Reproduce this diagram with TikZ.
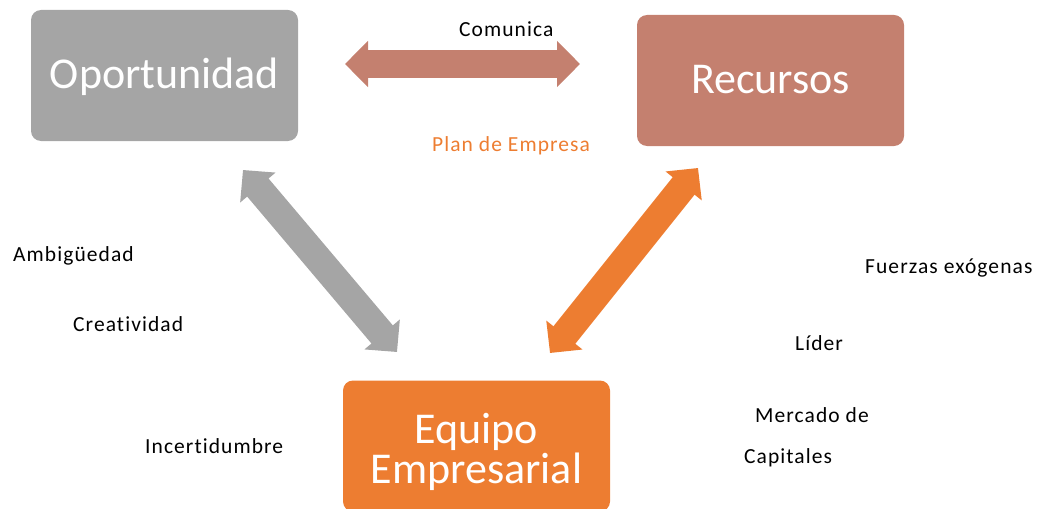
\documentclass[tikz,border=0pt]{standalone}
\usepackage{fontspec}
\setmainfont[Ligatures=NoCommon]{Carlito}
\newfontfamily\lblfont[LetterSpace=5,Ligatures=NoCommon]{Carlito}
\usetikzlibrary{arrows.meta}
\definecolor{cgray}{HTML}{A5A5A5}
\definecolor{cbrown}{HTML}{C4806F}
\definecolor{corange}{HTML}{ED7D31}
\begin{document}
\begin{tikzpicture}[x=1pt,y=-1pt,
  box/.style={rounded corners=10pt, minimum width=267pt, minimum height=131pt, inner sep=0pt, text=white, font=\fontsize{44}{38}\selectfont},
  bigtxt/.style={inner sep=0pt, text=white, font=\fontsize{44}{40}\selectfont},
  lbl/.style={anchor=base west, inner sep=0pt, font=\lblfont\fontsize{21.5}{26}\selectfont},
  dbl/.style={line width=28pt, {Triangle[length=23pt,width=45pt]}-{Triangle[length=23pt,width=45pt]}}
]
\useasboundingbox (0,0) rectangle (1040,508);
% boxes
\node[box, fill=cgray, text height=31pt, text depth=4pt] (op) at (164.5,75.5) {Oportunidad};
\node[box, fill=cbrown, text height=31pt, text depth=4pt] (re) at (770.5,80.5) {Recursos};
\node[box, fill=corange] (eq) at (476.5,446) {};
\node[bigtxt, align=center, anchor=base] (eqt) at (476.5,483) {Equipo\\Empresarial};
% arrow end points
\coordinate (h1) at (345,64);
\coordinate (h2) at (580,64);
\coordinate (g1) at (243,170);
\coordinate (g2) at (397,352);
\coordinate (o1) at (698,168);
\coordinate (o2) at (550,353);
\draw[dbl, cbrown] (h1) -- (h2);
\draw[dbl, cgray] (g1) -- (g2);
\draw[dbl, corange] (o1) -- (o2);
% labels
\node[lbl] (com) at (459,37) {Comunica};
\node[lbl, text=corange] (plan) at (432,151) {Plan de Empresa};
\node[lbl] (amb) at (13,261) {Ambigüedad};
\node[lbl] (cre) at (73,331) {Creatividad};
\node[lbl] (inc) at (145,453) {Incertidumbre};
\node[lbl] (fue) at (865,273) {Fuerzas exógenas};
\node[lbl] (lid) at (795,350) {Líder};
\node[lbl] (mer) at (755,422) {Mercado de};
\node[lbl] (cap) at (744,463) {Capitales};
\end{tikzpicture}
\end{document}
